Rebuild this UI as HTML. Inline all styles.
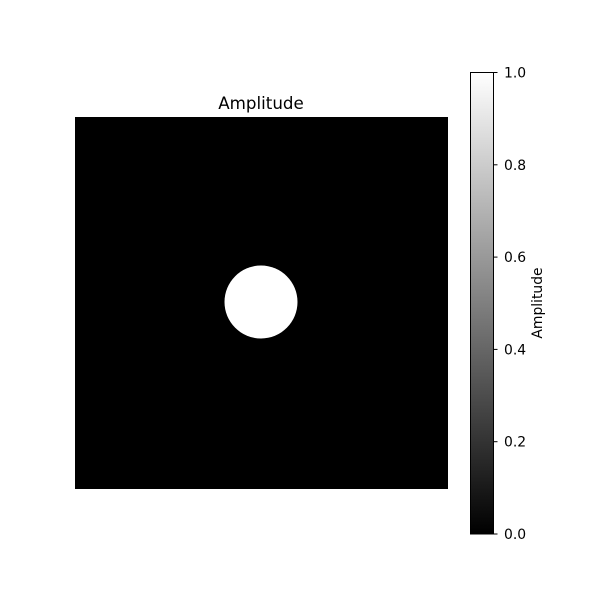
<!DOCTYPE html>
<html><head><style>
body{margin:0;background:#fff;}
svg{display:block;font-family:"DejaVu Sans","Liberation Sans",sans-serif;}
</style></head><body>
<svg width="600" height="600" viewBox="0 0 600 600">
<defs>
<linearGradient id="gray" x1="0" y1="1" x2="0" y2="0">
<stop offset="0" stop-color="#000"/><stop offset="1" stop-color="#fff"/>
</linearGradient>
</defs>
<text x="261" y="109" font-size="16.7" text-anchor="middle">Amplitude</text>
<rect x="75" y="117" width="373" height="372" fill="#000"/>
<circle id="disk" cx="261" cy="302" r="36.5" fill="#fff"/>
<rect x="470.5" y="72.5" width="23" height="461.5" fill="url(#gray)" stroke="#000" stroke-width="1"/>
<g id="ticks"></g>
<text transform="translate(542,303) rotate(-90)" font-size="13.9" text-anchor="middle">Amplitude</text>
</svg>
<script>
const tickValues=[0,0.2,0.4,0.6,0.8,1.0];
const tickLabels=["0.0","0.2","0.4","0.6","0.8","1.0"];
const vmin=0,vmax=1,y0=534,y1=72.5;
function yScale(v){return y0-(v-vmin)/(vmax-vmin)*(y0-y1);}
const g=document.getElementById('ticks');
const ns='http://www.w3.org/2000/svg';
tickValues.forEach((v,i)=>{
  const y=yScale(v);
  const l=document.createElementNS(ns,'line');
  l.setAttribute('x1',493.5);l.setAttribute('x2',497.5);
  l.setAttribute('y1',y);l.setAttribute('y2',y);
  l.setAttribute('stroke','#000');
  
  
  g.appendChild(l);
  const t=document.createElementNS(ns,'text');
  t.setAttribute('x',504);t.setAttribute('y',y+5);
  t.setAttribute('font-size','13.9');
  t.textContent=tickLabels[i];
  
  
  g.appendChild(t);
});
</script>
</body></html>
